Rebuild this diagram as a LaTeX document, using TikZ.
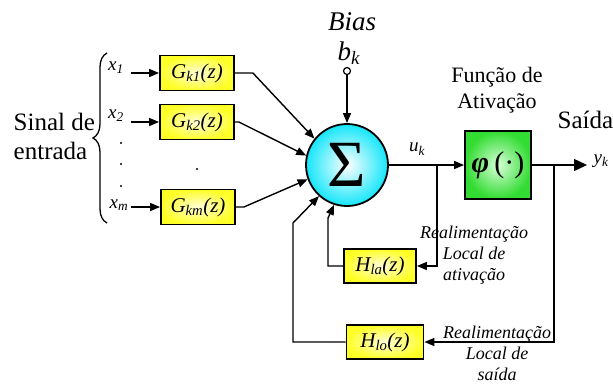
\documentclass[tikz,border=0pt]{standalone}
\usepackage{fontspec}
\setmainfont{LiberationSerif}[Extension=.ttf, UprightFont=*-Regular, ItalicFont=*-Italic,
  BoldFont=*-Bold, BoldItalicFont=*-BoldItalic]
\usetikzlibrary{arrows.meta,positioning,decorations.pathreplacing}

\definecolor{boxyel}{RGB}{255,255,40}
\definecolor{boxyelc}{RGB}{255,255,215}
\definecolor{sumcyan}{RGB}{20,230,250}
\definecolor{actgrn}{RGB}{50,220,50}
\definecolor{actgrnc}{RGB}{215,255,215}

\newcommand{\isub}[2]{\textit{#1}\textsubscript{\textit{#2}}}

\begin{document}
\begin{tikzpicture}[x=1pt, y=-1pt, line width=1.4pt,
  filt/.style={draw, line width=1.8pt, inner sep=0pt, minimum width=74pt, minimum height=35pt,
               inner color=boxyelc, outer color=boxyel, font=\fontsize{21}{21}\selectfont\itshape},
  soma/.style={draw, circle, line width=1.8pt, minimum size=82pt, inner sep=0pt,
               inner color=white, outer color=sumcyan, font=\fontsize{66}{66}\selectfont},
  ativ/.style={draw, line width=1.8pt, minimum width=66pt, minimum height=68pt, inner sep=0pt,
               inner color=actgrnc, outer color=actgrn, font=\fontsize{30}{30}\selectfont},
  xin/.style={font=\fontsize{19}{19}\selectfont\itshape, inner sep=0pt},
  txt/.style={font=\fontsize{25}{29}\selectfont, align=center, inner sep=0pt},
  nota/.style={font=\fontsize{18}{21}\selectfont\itshape, align=center, inner sep=0pt},
  arr/.style={-{Triangle[length=10pt,width=8pt]}},
  arrbig/.style={-{Triangle[length=13pt,width=12pt]}}
]
\useasboundingbox (0,0) rectangle (613,383);

\node[filt] (gk1) at (197,73)  {G\textsubscript{k1}(z)};
\node[filt] (gk2) at (197,122) {G\textsubscript{k2}(z)};
\node[filt] (gkm) at (198,207) {G\textsubscript{km}(z)};
\node[soma] (sum) at (347,165) {Σ};
\node[ativ] (phi) at (498,165) {\textbf{\textit{φ}}\,(·)};
\node[filt, minimum width=72pt, minimum height=34pt] (hla) at (380,266) {H\textsubscript{la}(z)};
\node[filt, minimum width=77pt, minimum height=34pt] (hlo) at (385,342) {H\textsubscript{lo}(z)};
\node[draw, circle, line width=1.2pt, minimum size=7pt, inner sep=0pt, fill=white] (bc) at (347,71) {};

\node[font=\fontsize{27}{27}\selectfont\itshape, inner sep=0pt] (bias) at (352,22) {Bias};
\node[font=\fontsize{27}{27}\selectfont, inner sep=0pt] (bk) at (349,53) {\isub{b}{k}};
\node[txt, align=left, anchor=west] (ent) at (13,136) {Sinal de\\entrada};
\node[txt, font=\fontsize{22}{26}\selectfont] (fat) at (497,90) {Função de\\Ativação};
\node[txt, anchor=base west] (sai) at (557,128) {Saída};
\node[xin] (uk) at (417,149) {u\textsubscript{k}};
\node[xin, anchor=west] (yk) at (593,161) {y\textsubscript{k}};
\node[xin] (x1) at (116,68) {x\textsubscript{1}};
\node[xin] (x2) at (116,116) {x\textsubscript{2}};
\node[xin] (xm) at (119,205) {x\textsubscript{m}};
\node[nota] (nla) at (474,255) {Realimentação\\Local de\\ativação};
\node[nota] (nlo) at (497,353) {Realimentação\\Local de\\saída};

\coordinate (in1) at (131,73);
\coordinate (in2) at (131,122);
\coordinate (inm) at (131,207);
\coordinate (br1) at (437,165);
\coordinate (br2) at (554,165);
\coordinate (out) at (587,165);

\draw[arr] (in1) -- (gk1);
\draw[arr] (in2) -- (gk2);
\draw[arr] (inm) -- (gkm);
\draw[arr] (gk1.east) -- ++(18,0) -- (sum.141);
\draw[arr] (gk2.east) -- ++(4,0) -- (sum.167);
\draw[arr] (gkm.east) -- ++(8,0) -- (sum.200);
\draw[arr] (bc) -- (sum);
\draw[arr] (sum) -- (phi);
\draw[arrbig] (phi) -- (out);
\draw[arr] (br1) |- (hla);
\draw[arr] (hla.west) -| (328,218) -- (sum.252);
\draw[arr] (br2) |- (hlo);
\draw[arr] (hlo.west) -| (293,223) -- (sum.228);

\draw[line width=1.3pt, decorate, decoration={brace, amplitude=14pt}] (107,223) -- (107,53);
\foreach \yy in {143,164,186} \fill (121,\yy) circle (1.2pt);
\fill (197,169) circle (1.2pt);
\end{tikzpicture}
\end{document}
